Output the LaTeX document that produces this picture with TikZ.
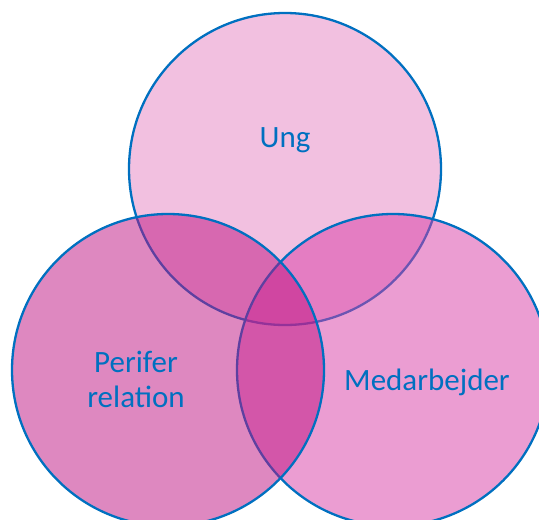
\documentclass[tikz,border=0pt]{standalone}
\usepackage{fontspec}
\setmainfont{Carlito}
\usetikzlibrary{shapes, positioning}
\definecolor{kant}{RGB}{0,112,192}
\definecolor{ungfarve}{RGB}{229,129,193}
\definecolor{medfarve}{RGB}{215,59,165}
\definecolor{perfarve}{RGB}{189,17,129}
\tikzstyle{cirkel} = [circle, draw=kant, line width=1.15pt, fill opacity=0.5, draw opacity=1, minimum size=156pt, inner sep=0pt]
\tikzstyle{etiket} = [text=kant, font=\fontsize{15.5}{17.5}\selectfont, align=center]

\begin{document}
\begin{tikzpicture}[x=0.5pt, y=-0.5pt]
	\clip (0,0) rectangle (539,519);
	\node [cirkel, fill=ungfarve] (ung) at (285,169) {};
	\node [cirkel, fill=medfarve] (med) at (393,370) {};
	\node [cirkel, fill=perfarve] (per) at (168,370) {};
	\node [etiket, anchor=base] (ungtekst) at (285,147) {Ung};
	\node [etiket] (pertekst) at (136,379) {Perifer\\relation};
	\node [etiket, anchor=base] (medtekst) at (427,390) {Medarbejder};
\end{tikzpicture}
\end{document}
